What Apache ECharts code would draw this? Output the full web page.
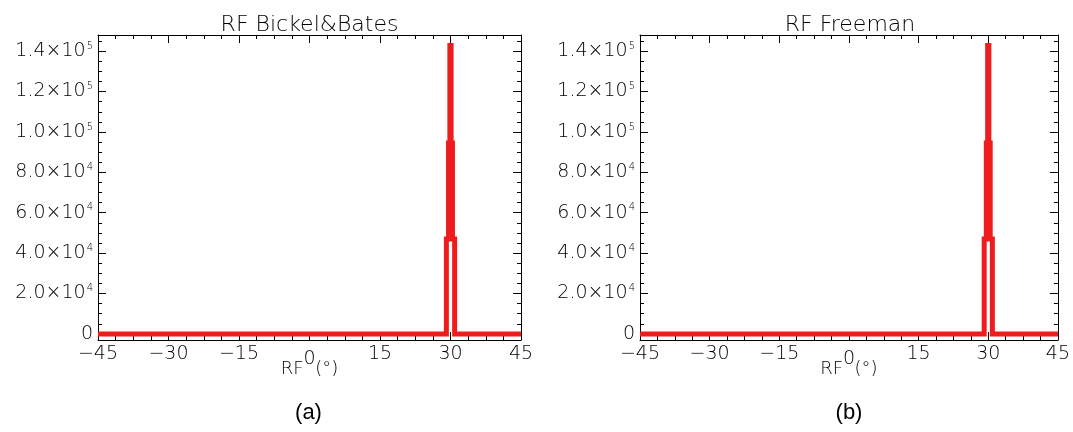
<!DOCTYPE html>
<html>
<head>
<meta charset="utf-8">
<script src="https://cdn.jsdelivr.net/npm/echarts@6/dist/echarts.min.js"></script>
<style>
html,body{margin:0;padding:0;background:#fff;}
#chart{width:1073px;height:432px;}
</style>
</head>
<body>
<div id="chart"></div>
<script>
// ---- data (histogram edges: value holds from each edge to the next) ----
const rfEdges = [-45, 29.12, 29.58, 29.87, 30.13, 30.42, 30.88, 45];
const bickelBates = [0, 47000, 94500, 142800, 94500, 47000, 0, 0];
const freeman = [0, 47000, 94500, 142800, 94500, 47000, 0, 0];
const xTickValues = [-45, -30, -15, 0, 15, 30, 45];
const yTickValues = [0, 20000, 40000, 60000, 80000, 100000, 120000, 140000];
const yMinorStep = 5000;
const panelTitles = ['RF Bickel&Bates', 'RF Freeman'];
const panelCaptions = ['(a)', '(b)'];
const xAxisName = 'RF  (\u00b0)';

// ---- chart ----
const FONT = 'DejaVu Sans';
const TXT = '#000';
const RED = '#ee1c1c';
const Y_MIN = -3000, Y_MAX = 148000;

const yMinorValues = [];
for (let v = 0; v <= Y_MAX; v += yMinorStep) { if (yTickValues.indexOf(v) < 0) yMinorValues.push(v); }

function yLabel(v) {
  if (v === 0) return '{m|0}';
  const e = Math.floor(Math.log10(v) + 1e-9);
  const m = (v / Math.pow(10, e)).toFixed(1);
  return '{m|' + m + '\u00d710}{s|' + e + '}';
}
function xLabel(v) {
  if (v === 0) return '{z|0}';
  return '{m|' + (v < 0 ? '\u2212' + Math.abs(v) : String(v)) + '}';
}

const grids = [
  {left: 98, top: 35, width: 423, height: 305},
  {left: 640, top: 35, width: 420, height: 305}
];
const xAxes = [], yAxes = [], series = [], titles = [];
const datasets = [bickelBates, freeman];

function stepRenderer(values) {
  // one polyline through the histogram steps, positioned by the axes (api.coord)
  return function (params, api) {
    if (params.dataIndex !== 0) return null;
    const pts = [];
    for (let k = 0; k < rfEdges.length; k++) {
      if (k > 0) pts.push(api.coord([rfEdges[k], values[k - 1]]));
      pts.push(api.coord([rfEdges[k], values[k]]));
    }
    return {
      type: 'polyline',
      shape: {points: pts},
      style: {stroke: RED, lineWidth: 5, fill: null, lineJoin: 'miter', lineCap: 'butt'}
    };
  };
}

grids.forEach((g, i) => {
  xAxes.push({
    type: 'value', gridIndex: i, position: 'bottom', min: -45, max: 45, interval: 15,
    name: xAxisName, nameLocation: 'middle', nameGap: 20, nameMoveOverlap: false,
    nameTextStyle: {fontFamily: FONT, fontWeight: 200, fontSize: 18, color: TXT},
    axisLine: {show: true, onZero: false, lineStyle: {color: '#000', width: 1}},
    axisTick: {show: true, inside: true, length: 8, customValues: xTickValues, lineStyle: {color: '#000'}},
    minorTick: {show: true, splitNumber: 4, length: 4, lineStyle: {color: '#000'}},
    splitLine: {show: false}, minorSplitLine: {show: false},
    axisLabel: {
      show: true, margin: 5, customValues: xTickValues, formatter: xLabel,
      rich: {
        m: {fontFamily: FONT, fontWeight: 200, fontSize: 19, color: TXT},
        z: {fontFamily: FONT, fontWeight: 200, fontSize: 19, color: TXT, padding: [5, 0, 0, 0]}
      }
    }
  });
  xAxes.push({
    type: 'value', gridIndex: i, position: 'top', min: -45, max: 45, interval: 15,
    axisLine: {show: true, onZero: false, lineStyle: {color: '#000', width: 1}},
    axisTick: {show: true, inside: true, length: 8, lineStyle: {color: '#000'}},
    minorTick: {show: true, splitNumber: 4, length: 4, lineStyle: {color: '#000'}},
    splitLine: {show: false}, axisLabel: {show: false}
  });
  yAxes.push({
    type: 'value', gridIndex: i, position: 'left', min: Y_MIN, max: Y_MAX,
    axisLine: {show: true, onZero: false, lineStyle: {color: '#000', width: 1}},
    axisTick: {show: true, inside: true, length: 8, customValues: yTickValues, lineStyle: {color: '#000'}},
    splitLine: {show: false},
    axisLabel: {
      show: true, margin: 5, customValues: yTickValues, formatter: yLabel,
      rich: {
        m: {fontFamily: FONT, fontWeight: 200, fontSize: 19, color: TXT, lineHeight: 20},
        s: {fontFamily: FONT, fontWeight: 200, fontSize: 10, color: TXT, lineHeight: 20, verticalAlign: 'top', padding: [0, 0, 0, 1]}
      }
    }
  });
  yAxes.push({
    type: 'value', gridIndex: i, position: 'left', min: Y_MIN, max: Y_MAX,
    axisLine: {show: false, onZero: false},
    axisTick: {show: true, inside: true, length: 4, customValues: yMinorValues, lineStyle: {color: '#000'}},
    splitLine: {show: false}, axisLabel: {show: false}
  });
  yAxes.push({
    type: 'value', gridIndex: i, position: 'right', min: Y_MIN, max: Y_MAX,
    axisLine: {show: true, onZero: false, lineStyle: {color: '#000', width: 1}},
    axisTick: {show: true, inside: true, length: 8, customValues: yTickValues, lineStyle: {color: '#000'}},
    splitLine: {show: false}, axisLabel: {show: false}
  });
  yAxes.push({
    type: 'value', gridIndex: i, position: 'right', min: Y_MIN, max: Y_MAX,
    axisLine: {show: false, onZero: false},
    axisTick: {show: true, inside: true, length: 4, customValues: yMinorValues, lineStyle: {color: '#000'}},
    splitLine: {show: false}, axisLabel: {show: false}
  });

  series.push({
    type: 'custom', xAxisIndex: i * 2, yAxisIndex: i * 4, clip: true, silent: true,
    encode: {x: 0, y: 1},
    data: rfEdges.map((x, k) => [x, datasets[i][k]]),
    renderItem: stepRenderer(datasets[i])
  });

  const cx = g.left + g.width / 2;
  titles.push({
    text: panelTitles[i], left: cx, top: 14, padding: 0, textAlign: 'center',
    textStyle: {fontFamily: FONT, fontWeight: 200, fontSize: 22, color: TXT}
  });
  titles.push({
    text: panelCaptions[i], left: cx - 1, top: 402, padding: 0, textAlign: 'center',
    textStyle: {fontFamily: 'Liberation Sans', fontWeight: 'normal', fontSize: 22, color: '#000'}
  });
});

const chart = echarts.init(document.getElementById('chart'), null, {renderer: 'canvas'});
chart.setOption({
  animation: false,
  backgroundColor: '#fff',
  title: titles,
  grid: grids,
  xAxis: xAxes,
  yAxis: yAxes,
  series: series
});
</script>
</body>
</html>
